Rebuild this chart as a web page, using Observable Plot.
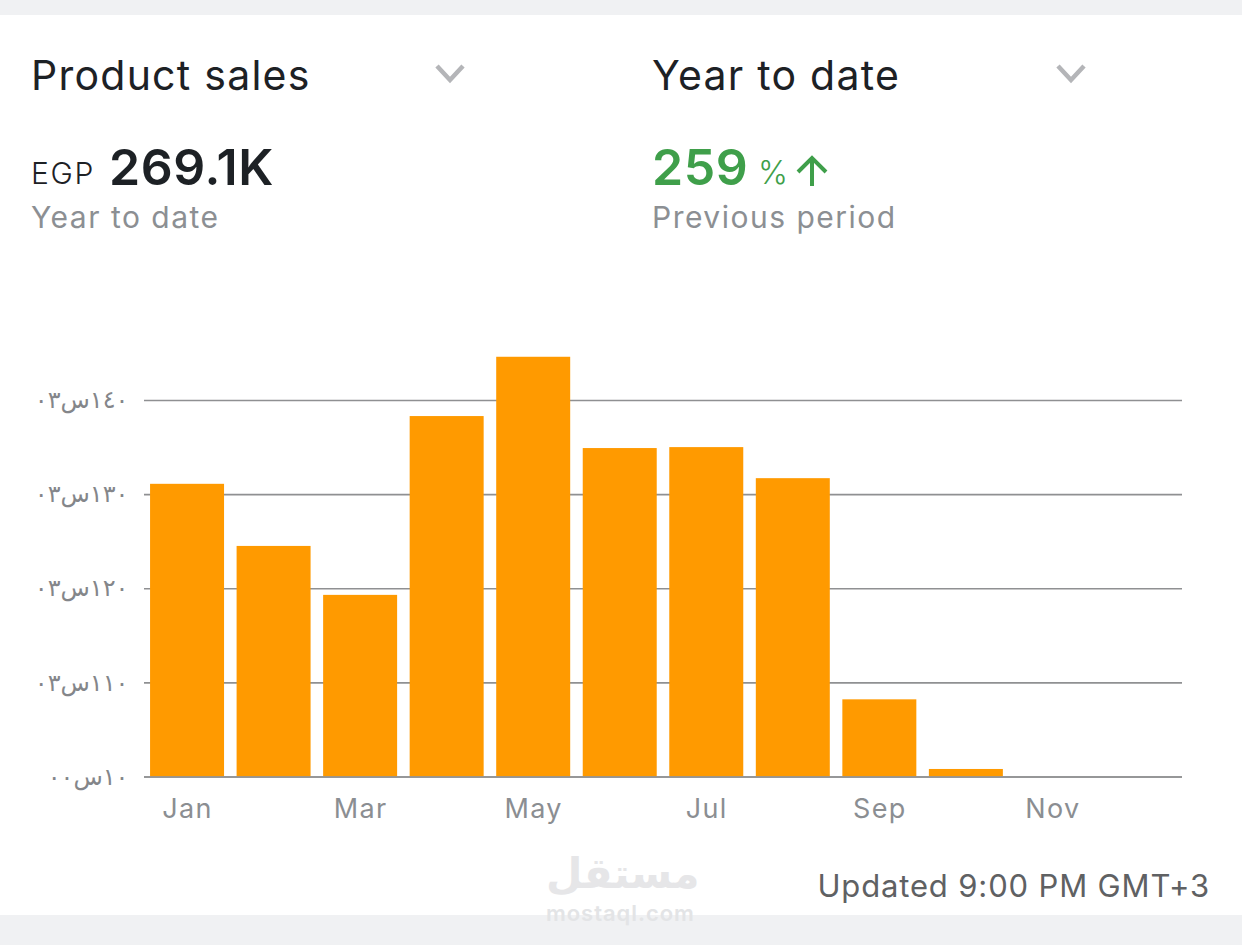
<!DOCTYPE html>
<html><head><meta charset="utf-8">
<script src="https://cdn.jsdelivr.net/npm/d3@7"></script>
<script src="https://cdn.jsdelivr.net/npm/@observablehq/plot@0.6"></script>
<style>
html,body{margin:0;padding:0;background:#fff;}
#page{position:relative;width:1242px;height:945px;overflow:hidden;font-family:Inter,"Noto Sans",sans-serif;background:#fff;}
.band{position:absolute;left:0;width:1242px;background:#f0f1f3;}
.t{position:absolute;white-space:nowrap;line-height:1;}
.head{font-size:41px;color:#1d2125;top:55px;letter-spacing:1.25px;}
.sub{font-size:30px;color:#8c8f93;top:202px;letter-spacing:1.5px;}
.big{font-size:50px;font-weight:600;top:142px;letter-spacing:.6px;}
.chev{position:absolute;top:63px;}
#chart{position:absolute;left:0;top:330px;}
#chart svg{display:block;}
#chart [aria-label="x-axis tick label"]{letter-spacing:1.3px;}
</style></head><body>
<div id="page">
  <div class="band" style="top:0;height:15px"></div>
  <div class="band" style="top:915px;height:30px"></div>
  <div class="t head" style="left:31px">Product sales</div>
  <svg class="chev" style="left:434px" width="32" height="22"><polyline points="3,3 16,17 29,3" fill="none" stroke="#b4b5b8" stroke-width="4.5"/></svg>
  <div class="t head" style="left:652px">Year to date</div>
  <svg class="chev" style="left:1055px" width="32" height="22"><polyline points="3,3 16,17 29,3" fill="none" stroke="#b4b5b8" stroke-width="4.5"/></svg>
  <div class="t" style="left:31px;top:158px;font-size:30px;letter-spacing:1.7px;color:#1d2125;font-weight:300">EGP</div>
  <div class="t big" style="left:109px;color:#1d2125">269.1K</div>
  <div class="t sub" style="left:31px">Year to date</div>
  <div class="t big" style="left:652px;color:#3f9f4a">259</div>
  <div class="t" style="left:758px;top:157px;font-size:32px;font-weight:300;color:#3f9f4a">%</div>
  <svg style="position:absolute;left:795px;top:154px" width="34" height="34"><path d="M17 32V4M3 18L17 4L31 18" fill="none" stroke="#3f9f4a" stroke-width="4"/></svg>
  <div class="t sub" style="left:652px">Previous period</div>
  <div id="chart"></div>
  <div class="t" style="left:546px;top:853px;width:150px;text-align:center;font-family:'DejaVu Sans';font-weight:700;font-size:42px;color:#e6e6e8">مستقل</div>
  <div class="t" style="left:546px;top:902px;font-size:22px;font-weight:600;letter-spacing:.95px;color:#e3e4e6">mostaql.com</div>
  <div class="t" style="right:32px;top:870px;font-size:31px;letter-spacing:.85px;color:#5f6163">Updated 9:00 PM GMT+3</div>
</div>
<script>
const months = ["Jan","Feb","Mar","Apr","May","Jun","Jul","Aug","Sep","Oct","Nov","Dec"];
const sales = [31.1,24.5,19.3,38.3,44.6,34.9,35.0,31.7,8.2,0.8,0,0];
const xTicks = ["Jan","Mar","May","Jul","Sep","Nov"];
const yTicks = [0,10,20,30,40];
const yTickLabels = ["١٠س٠٠","١١٠س٠٣","١٢٠س٠٣","١٣٠س٠٣","١٤٠س٠٣"];
const rows = months.map((m,i)=>({month:m,value:sales[i]}));
const chart = Plot.plot({
  width:1242, height:520,
  marginLeft:144, marginRight:60, marginTop:23, marginBottom:73.5,
  style:{fontFamily:'Inter,"DejaVu Sans",sans-serif',background:"transparent"},
  x:{domain:months,paddingInner:0.145,paddingOuter:0.07,round:false,label:null},
  y:{domain:[0,45],label:null},
  marks:[
    Plot.ruleY(yTicks,{stroke:"#8f9092",strokeWidth:1.6}),
    Plot.barY(rows,{x:"month",y:"value",fill:"#ff9a00"}),
    Plot.ruleY([0],{stroke:"#8f9092",strokeWidth:1.6}),
    Plot.axisX({ticks:xTicks,tickSize:0,tickPadding:22,fontSize:27,fill:"#8b8e92",label:null}),
    Plot.axisY({ticks:yTicks,tickFormat:(d,i)=>yTickLabels[i],tickSize:0,tickPadding:16,fontSize:24,fill:"#84868a",label:null})
  ]
});
document.getElementById("chart").append(chart);
</script>
</body></html>
